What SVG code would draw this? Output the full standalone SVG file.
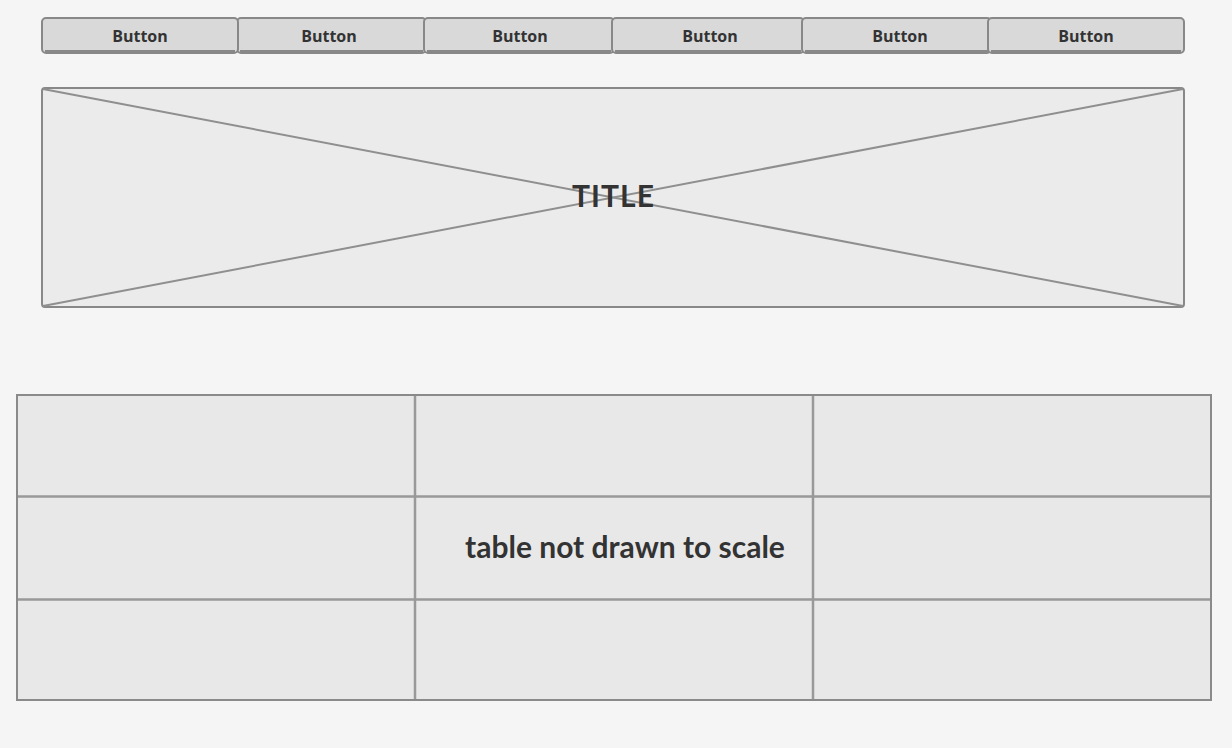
<svg xmlns="http://www.w3.org/2000/svg" width="1232" height="748" viewBox="0 0 1232 748">
<style>
.btn rect.b{fill:#d9d9d9;stroke:#888;stroke-width:2}
.btn line{stroke:#888;stroke-width:3}
.btn text{font-family:"Open Sans","DejaVu Sans",sans-serif;font-weight:bold;font-size:16px;fill:#333;text-anchor:middle}
.big{font-family:Lato,"Open Sans",sans-serif;font-weight:bold;font-size:30px;fill:#333;text-anchor:middle}
.cell{fill:#e8e8e8;stroke:#8a8a8a;stroke-width:2}
.grid{stroke:#999;stroke-width:2.5}
</style>
<rect width="1232" height="748" fill="#f5f5f5"/>
<g id="button2" class="btn"><rect class="b" x="237" y="18" width="189" height="35" rx="4"/><line x1="240" y1="51.5" x2="423" y2="51.5"/><text x="329" y="42">Button</text></g>
<g id="button1" class="btn"><rect class="b" x="42" y="18" width="196" height="35" rx="4"/><line x1="45" y1="51.5" x2="235" y2="51.5"/><text x="140" y="42">Button</text></g>
<g id="button3" class="btn"><rect class="b" x="424" y="18" width="190" height="35" rx="4"/><line x1="427" y1="51.5" x2="611" y2="51.5"/><text x="520" y="42">Button</text></g>
<g id="button4" class="btn"><rect class="b" x="612" y="18" width="192" height="35" rx="4"/><line x1="615" y1="51.5" x2="801" y2="51.5"/><text x="710" y="42">Button</text></g>
<g id="button5" class="btn"><rect class="b" x="802" y="18" width="189" height="35" rx="4"/><line x1="805" y1="51.5" x2="988" y2="51.5"/><text x="900" y="42">Button</text></g>
<g id="button6" class="btn"><rect class="b" x="988" y="18" width="196" height="35" rx="4"/><line x1="991" y1="51.5" x2="1181" y2="51.5"/><text x="1086" y="42">Button</text></g>
<g id="title">
<rect x="42" y="88" width="1142" height="219" rx="3" fill="#ebebeb" stroke="#888" stroke-width="2"/>
<line x1="43" y1="89" x2="1183" y2="306" stroke="#8f8f8f" stroke-width="2"/>
<line x1="43" y1="306" x2="1183" y2="89" stroke="#8f8f8f" stroke-width="2"/>
<text class="big" x="613" y="207" textLength="82" lengthAdjust="spacing">TITLE</text>
</g>
<g id="table">
<rect class="cell" x="17" y="395" width="1194" height="305"/>
<line class="grid" x1="415" y1="396" x2="415" y2="699"/>
<line class="grid" x1="813" y1="396" x2="813" y2="699"/>
<line class="grid" x1="18" y1="496.5" x2="1210" y2="496.5"/>
<line class="grid" x1="18" y1="599.5" x2="1210" y2="599.5"/>
<text class="big" x="625" y="558" font-size="31">table not drawn to scale</text>
</g>
</svg>
